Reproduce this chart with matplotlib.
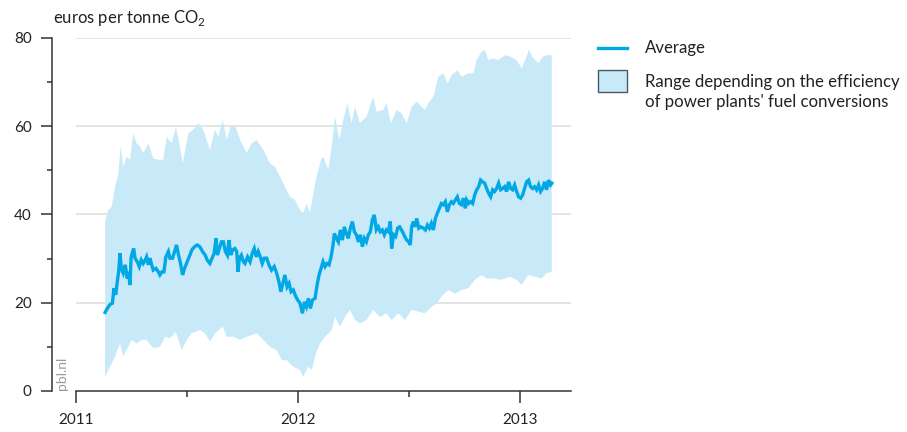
import matplotlib
matplotlib.use("Agg")
import matplotlib.pyplot as plt
import numpy as np
from matplotlib.lines import Line2D
from matplotlib.patches import Rectangle

# ---------------- data ----------------
# time in decimal years, values in euros per tonne CO2
avg_t = [2011.131, 2011.141, 2011.153, 2011.164, 2011.171, 2011.179, 2011.186, 2011.192, 2011.198, 2011.204,
         2011.213, 2011.222, 2011.231, 2011.237, 2011.243, 2011.248, 2011.255, 2011.260, 2011.266, 2011.276,
         2011.285, 2011.294, 2011.303, 2011.312, 2011.318, 2011.326, 2011.333, 2011.341, 2011.348, 2011.360,
         2011.371, 2011.378, 2011.387, 2011.396, 2011.405, 2011.416, 2011.423, 2011.435, 2011.444, 2011.453,
         2011.462, 2011.471, 2011.480, 2011.489, 2011.501, 2011.513, 2011.522, 2011.534, 2011.546, 2011.558,
         2011.570, 2011.582, 2011.591, 2011.603, 2011.613, 2011.622, 2011.631, 2011.637, 2011.646, 2011.655,
         2011.664, 2011.673, 2011.682, 2011.689, 2011.697, 2011.706, 2011.716, 2011.724, 2011.730, 2011.736,
         2011.745, 2011.754,
         2011.761, 2011.773, 2011.784, 2011.794, 2011.803, 2011.812, 2011.821, 2011.830, 2011.839, 2011.848,
         2011.859, 2011.869, 2011.881, 2011.893, 2011.904, 2011.914, 2011.923, 2011.932, 2011.941, 2011.951,
         2011.960, 2011.969, 2011.979, 2011.990, 2011.999,
         2012.009, 2012.020, 2012.029, 2012.038, 2012.047,
         2012.056, 2012.065, 2012.077, 2012.086, 2012.095, 2012.104, 2012.113, 2012.122, 2012.131, 2012.140,
         2012.149, 2012.158, 2012.164, 2012.173, 2012.182, 2012.191, 2012.200, 2012.209, 2012.218, 2012.227,
         2012.236, 2012.245, 2012.254, 2012.263, 2012.272, 2012.281, 2012.290, 2012.299, 2012.308, 2012.317,
         2012.326, 2012.335, 2012.344, 2012.353, 2012.362, 2012.371, 2012.380, 2012.389, 2012.398, 2012.407,
         2012.416, 2012.422, 2012.431, 2012.440, 2012.449, 2012.458,
         2012.471, 2012.481, 2012.490, 2012.499, 2012.506, 2012.512, 2012.520, 2012.527, 2012.535, 2012.544,
         2012.553, 2012.565, 2012.574, 2012.583, 2012.592, 2012.601, 2012.610, 2012.619, 2012.628, 2012.637,
         2012.646, 2012.655, 2012.664, 2012.673, 2012.682, 2012.691, 2012.700, 2012.709, 2012.718, 2012.727,
         2012.736, 2012.745, 2012.754, 2012.760, 2012.769, 2012.778, 2012.787, 2012.796, 2012.805, 2012.814,
         2012.823, 2012.832, 2012.841, 2012.850, 2012.859, 2012.868, 2012.877, 2012.886, 2012.895, 2012.904,
         2012.913, 2012.922, 2012.931, 2012.940, 2012.949, 2012.958, 2012.967, 2012.976, 2012.985, 2012.994,
         2013.003, 2013.012, 2013.021, 2013.030, 2013.039, 2013.048, 2013.057, 2013.066, 2013.075, 2013.084,
         2013.093, 2013.102, 2013.111, 2013.120, 2013.129, 2013.138, 2013.144]
avg_v = [17.8, 18.7, 19.6, 19.9, 23.3, 21.8, 24.8, 27.0, 31.2, 27.8,
         26.7, 28.6, 25.5, 27.0, 24.0, 30.1, 31.6, 32.3, 30.1, 29.3,
         28.2, 29.7, 28.9, 29.7, 30.4, 28.6, 30.1, 28.6, 27.4, 27.8,
         27.0, 26.3, 27.0, 27.0, 30.4, 31.6, 30.1, 30.1, 31.6, 33.1,
         30.8, 28.9, 26.3, 27.8, 29.3, 30.8, 32.0, 32.7, 33.1, 32.7,
         31.6, 30.8, 29.7, 28.9, 30.1, 31.2, 34.6, 30.8, 32.3, 33.8,
         33.8, 31.6, 30.8, 34.2, 30.8, 32.0, 32.3, 31.6, 27.0, 30.1,
         30.8, 29.3,
         28.9, 30.4, 29.3, 31.2, 32.3, 30.4, 31.6, 30.4, 28.9, 30.1,
         30.1, 28.6, 27.4, 28.2, 26.7, 24.8, 22.5, 24.4, 26.3, 23.6,
         24.4, 22.5, 22.9, 21.4, 20.6,
         19.9, 17.6, 20.2, 19.1, 21.0,
         18.7, 20.6, 21.0, 24.0, 26.3, 27.8, 29.3, 28.2, 28.9, 28.6,
         30.4, 33.1, 35.7, 34.6, 33.8, 36.5, 34.2, 37.2, 35.7, 34.6,
         36.9, 38.4, 36.1, 35.4, 33.8, 35.4, 32.7, 34.6, 33.8, 35.4,
         36.1, 38.8, 39.9, 36.5, 37.2, 36.1, 36.5, 35.4, 36.5, 36.1,
         38.4, 32.3, 35.4, 35.0, 36.9, 37.2,
         36.1, 35.0, 34.2, 33.8, 33.1, 37.2, 38.4, 37.2, 39.1, 36.9,
         37.2, 36.9, 36.5, 37.6, 36.9, 38.0, 36.5, 39.1, 40.3, 41.4,
         42.5, 42.2, 42.9, 40.6, 42.2, 42.9, 42.5, 43.3, 44.0, 42.5,
         42.2, 43.7, 41.4, 43.3, 42.5, 42.9, 42.5, 44.4, 45.6, 46.3,
         47.8, 47.4, 47.1, 45.9, 44.8, 44.0, 45.6, 45.2, 45.9, 47.1,
         45.6, 45.9, 46.3, 45.2, 47.4, 45.9, 45.6, 46.7, 45.2, 44.0,
         43.7, 44.4, 45.9, 47.4, 47.8, 46.3, 45.9, 46.3, 45.6, 46.7,
         45.2, 45.9, 47.4, 45.6, 47.8, 46.7, 47.1]

up_t = [2011.131, 2011.145, 2011.161, 2011.176, 2011.191, 2011.201, 2011.213, 2011.228, 2011.243, 2011.258,
        2011.273, 2011.288, 2011.303, 2011.326, 2011.348, 2011.371, 2011.393, 2011.409, 2011.431, 2011.450,
        2011.468, 2011.481, 2011.506, 2011.528, 2011.551, 2011.573, 2011.604, 2011.626, 2011.641, 2011.661,
        2011.679, 2011.697, 2011.719, 2011.739, 2011.769, 2011.791, 2011.814, 2011.844, 2011.874, 2011.896,
        2011.919, 2011.941, 2011.964, 2011.986,
        2012.009, 2012.024, 2012.039, 2012.054, 2012.069, 2012.084, 2012.104, 2012.114, 2012.137, 2012.152,
        2012.167, 2012.186, 2012.204, 2012.222, 2012.242, 2012.257, 2012.279, 2012.309, 2012.339, 2012.354,
        2012.384, 2012.399, 2012.419, 2012.445, 2012.467, 2012.490, 2012.512, 2012.535, 2012.557, 2012.572,
        2012.587, 2012.610, 2012.625, 2012.632, 2012.655, 2012.674, 2012.692, 2012.719, 2012.737, 2012.767,
        2012.790, 2012.805, 2012.827, 2012.842, 2012.857, 2012.880, 2012.902, 2012.932, 2012.955, 2012.985,
        2013.008, 2013.023, 2013.041, 2013.060, 2013.083, 2013.105, 2013.120, 2013.143]
up_v = [38.4, 41.0, 41.8, 46.3, 49.3, 55.4, 50.8, 53.1, 52.4, 58.4,
        56.1, 55.4, 53.9, 56.1, 52.7, 52.4, 52.4, 57.6, 56.1, 59.9,
        55.4, 51.6, 58.4, 59.2, 60.7, 59.2, 54.6, 59.2, 57.6, 61.4,
        56.9, 59.9, 59.9, 56.9, 53.9, 56.1, 56.9, 54.6, 51.6, 50.8,
        48.6, 46.3, 44.0, 43.3,
        41.0, 40.3, 42.5, 40.3, 44.8, 48.6, 52.4, 53.1, 50.1, 55.4,
        62.2, 56.9, 61.4, 65.2, 60.7, 64.4, 60.7, 62.2, 66.7, 63.3,
        63.7, 65.2, 60.7, 63.7, 62.9, 60.7, 64.4, 65.6, 64.4, 63.7,
        65.2, 66.7, 69.7, 71.2, 72.0, 69.7, 71.6, 72.7, 71.2, 72.0,
        72.0, 75.0, 76.9, 77.3, 75.0, 75.4, 75.0, 76.1, 75.8, 75.0,
        73.1, 75.0, 77.3, 75.4, 74.3, 75.8, 76.1, 76.1]

lo_t = [2011.131, 2011.153, 2011.176, 2011.198, 2011.213, 2011.228, 2011.251, 2011.273, 2011.296, 2011.318,
        2011.348, 2011.378, 2011.401, 2011.423, 2011.450, 2011.476, 2011.499, 2011.521, 2011.559, 2011.581,
        2011.604, 2011.626, 2011.661, 2011.679, 2011.709, 2011.739, 2011.769, 2011.814, 2011.844, 2011.874,
        2011.904, 2011.927, 2011.949, 2011.979,
        2012.009, 2012.024, 2012.046, 2012.062, 2012.081, 2012.099, 2012.122, 2012.152, 2012.167, 2012.189,
        2012.212, 2012.234, 2012.257, 2012.279, 2012.309, 2012.339, 2012.369, 2012.399, 2012.422, 2012.452,
        2012.482, 2012.512, 2012.542, 2012.572, 2012.602, 2012.625, 2012.647, 2012.677, 2012.707, 2012.737,
        2012.767, 2012.797, 2012.827, 2012.850, 2012.880, 2012.917, 2012.955, 2012.985,
        2013.008, 2013.037, 2013.068, 2013.098, 2013.120, 2013.143]
lo_v = [3.2, 5.5, 7.8, 10.8, 7.8, 9.3, 11.6, 10.8, 11.6, 11.6,
        9.7, 10.0, 12.3, 11.9, 13.4, 9.3, 11.6, 13.1, 13.8, 13.1,
        11.2, 13.1, 14.6, 12.3, 12.3, 11.6, 12.3, 13.1, 11.6, 10.0,
        9.3, 7.0, 7.0, 5.5,
        4.8, 3.2, 5.5, 4.8, 8.5, 10.8, 12.3, 13.8, 16.8, 14.6,
        16.8, 18.4, 16.1, 15.3, 16.1, 18.4, 16.8, 17.6, 16.1, 17.6,
        16.1, 18.4, 18.0, 17.6, 19.1, 19.9, 21.4, 22.9, 22.1, 22.9,
        23.3, 25.2, 26.3, 25.5, 25.5, 25.2, 25.9, 25.2,
        24.0, 26.3, 25.9, 25.5, 26.7, 27.0]

assert len(avg_t) == len(avg_v) and len(up_t) == len(up_v) and len(lo_t) == len(lo_v)

y_ticks = [0, 20, 40, 60, 80]
y_minor = [10, 30, 50, 70]
x_ticks = [2011, 2012, 2013]
x_labels = ["2011", "2012", "2013"]
x_minor = [2011.5, 2012.5]

title = "euros per tonne CO$_{\\mathregular{2}}$"
legend_avg = "Average"
legend_rng = ["Range depending on the efficiency", "of power plants' fuel conversions"]

# ---------------- style ----------------
plt.rcParams["font.family"] = ["Lato", "DejaVu Sans"]
plt.rcParams["mathtext.fontset"] = "custom"
plt.rcParams["mathtext.rm"] = "Lato"
LINE = "#00a8e6"
FILL = "#c8e9f8"
AXC = "#333333"
TXT = "#222222"

W, H = 907, 432
fig = plt.figure(figsize=(W / 100, H / 100), dpi=100)
ax = fig.add_axes([76 / W, 41 / H, 495 / W, 353 / H])

up_t_a = np.array(up_t); up_v_a = np.array(up_v)
lo_t_a = np.array(lo_t); lo_v_a = np.array(lo_v)
ax.fill(np.concatenate([up_t_a, lo_t_a[::-1]]), np.concatenate([up_v_a, lo_v_a[::-1]]),
        facecolor=FILL, edgecolor="none", zorder=2)
ax.plot(avg_t, avg_v, color=LINE, lw=2.4, zorder=3, solid_joinstyle="miter")

ax.set_xlim(2011, 2013.23)
ax.set_ylim(0, 80)

for v in y_ticks[1:]:
    ax.axhline(v, color="#dcdcdc", lw=1.1, zorder=1)

ax.spines["top"].set_visible(False)
ax.spines["right"].set_visible(False)
ax.spines["left"].set_position(("outward", 17))
ax.spines["left"].set_bounds(0, 80)
for s in ("left", "bottom"):
    ax.spines[s].set_color(AXC)
    ax.spines[s].set_linewidth(1.1)

ax.set_yticks(y_ticks)
ax.set_yticks(y_minor, minor=True)
ax.set_xticks(x_ticks)
ax.set_xticklabels(x_labels)
ax.set_xticks(x_minor, minor=True)
ax.tick_params(axis="y", which="major", length=8, width=1.1, color=AXC, labelsize=11, pad=7, labelcolor=TXT)
ax.tick_params(axis="y", which="minor", length=3.6, width=1.1, color=AXC)
ax.tick_params(axis="x", which="major", length=8.6, width=1.1, color=AXC, labelsize=11, pad=7, labelcolor=TXT)
ax.tick_params(axis="x", which="minor", length=4.3, width=1.1, color=AXC)

fig.text(53 / W, 1 - 23 / H, title, fontsize=12, color=TXT, va="baseline", ha="left")
fig.text(62 / W, 1 - 390 / H, "pbl.nl", fontsize=10, color="#9a9a9a", rotation=90,
         ha="center", va="bottom")

# legend (drawn manually)
fig.add_artist(Line2D([598 / W, 627 / W], [1 - 48 / H, 1 - 48 / H], color=LINE, lw=2.4,
                      transform=fig.transFigure))
fig.add_artist(Rectangle((598 / W, 1 - 92 / H), 29 / W, 22 / H, facecolor=FILL, edgecolor="#4a5a63",
                         lw=1.0, transform=fig.transFigure))
fig.text(645 / W, 1 - 53 / H, legend_avg, fontsize=12.1, color=TXT, va="baseline")
fig.text(645 / W, 1 - 87 / H, legend_rng[0], fontsize=12.1, color=TXT, va="baseline")
fig.text(645 / W, 1 - 107 / H, legend_rng[1], fontsize=12.1, color=TXT, va="baseline")

fig.savefig("out.png", dpi=100)
